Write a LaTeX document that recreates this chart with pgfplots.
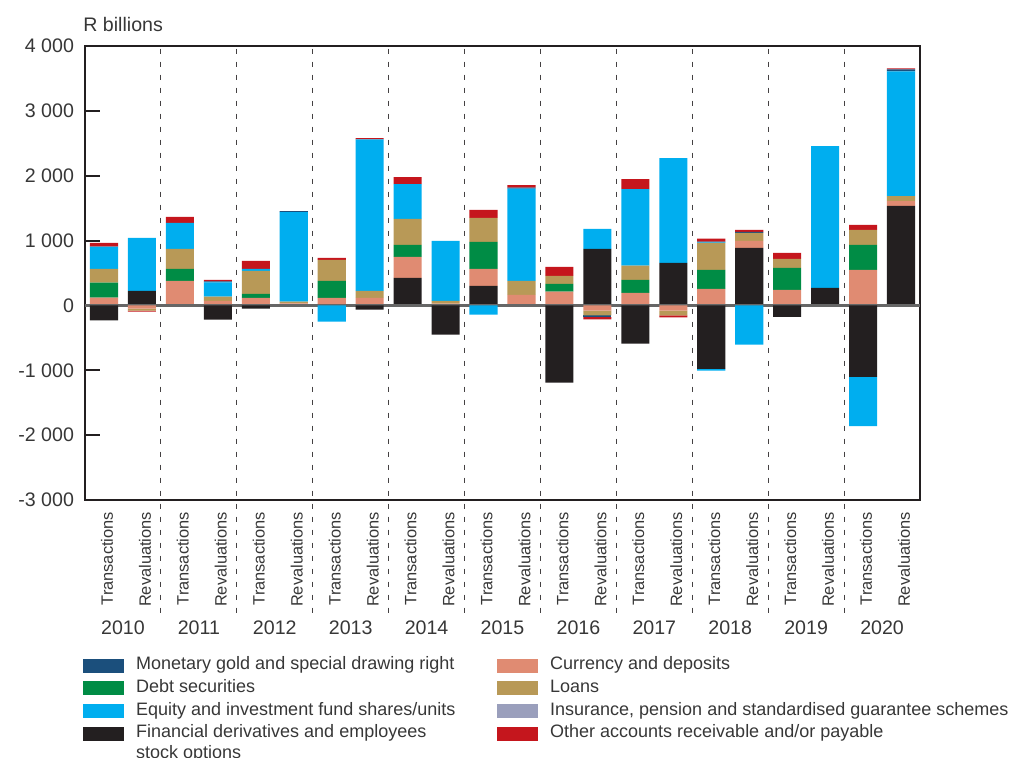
\documentclass[border=0pt]{standalone}
\usepackage{pgfplots}
\pgfplotsset{compat=1.18}
\usepackage{pgfplotstable}
\usepackage{fontspec}
\setmainfont{Liberation Sans}

\definecolor{cGold}{RGB}{27,79,124}
\definecolor{cDebt}{RGB}{0,140,69}
\definecolor{cEq}{RGB}{0,174,239}
\definecolor{cDer}{RGB}{35,31,32}
\definecolor{cCur}{RGB}{224,139,114}
\definecolor{cLoan}{RGB}{184,153,87}
\definecolor{cIns}{RGB}{154,159,188}
\definecolor{cOth}{RGB}{197,22,29}
\definecolor{axisdark}{RGB}{35,31,32}
\definecolor{txt}{RGB}{55,55,55}

% positive parts of each bar (R billions)
\pgfplotstableread{
x  der  cur  debt loans eq   gold ins oth
0  0    120  230  215   340  0    0   60
1  225  0    0    0     815  0    0   0
2  10   370  185  308   400  0    0   92
3  0    72   0    62    220  15   0   26
4  0    118  62   353   31   0    0   123
5  0    30   0    30    1380 15   0   0
6  0    118  261  324   0    0    0   30
7  0    118  0    108   2334 0    0   20
8  426  323  184  400   539  0    0   107
9  0    26   0    46    923  0    0   0
10 303  261  416  369   0    0    0   123
11 0    164  0    215   1421 15   0   40
12 0    211  123  123   0    0    0   138
13 872  0    0    0     308  0    0   0
14 0    195  200  220   1180 0    0   154
15 657  0    0    0     1615 0    0   0
16 0    257  292  415   10   10   0   45
17 887  108  0    123   0    15   0   30
18 0    241  339  138   0    0    0   92
19 272  0    0    0     2184 0    0   0
20 0    549  384  231   0    0    0   77
21 1533 77   0    77    1923 30   0   16
}\pos

% negative parts of each bar (R billions)
\pgfplotstableread{
x  der   cur  debt loans eq   gold ins oth
0  -230  0    0    0     0    0    0   0
1  0     -50  0    -30   0    0    0   -15
2  0     0    0    0     0    0    0   0
3  -220  0    0    0     0    0    0   0
4  -50   0    0    0     0    0    0   0
5  0     0    0    0     0    0    0   0
6  0     0    0    0     -250 0    0   0
7  -66   0    0    0     0    0    0   0
8  0     0    0    0     0    0    0   0
9  -450  0    0    0     0    0    0   0
10 0     0    0    0     -143 0    0   0
11 0     0    0    0     0    0    0   0
12 -1190 0    0    0     0    0    0   0
13 0     -80  0    -75   0    -25  0   -35
14 -590  0    0    0     0    0    0   0
15 0     -80  0    -75   0    0    0   -30
16 -980  0    0    0     -25  0    0   0
17 0     0    0    0     -605 0    0   0
18 -175  0    0    0     0    0    0   0
19 0     0    0    0     0    0    0   0
20 -1100 0    0    0     -760 0    0   0
21 0     0    0    0     0    0    0   0
}\neg

\pgfplotsset{
  common/.style={
    scale only axis, width=417.5pt, height=227pt,
    xmin=-0.5, xmax=21.5, ymin=-3000, ymax=4000,
    ybar stacked, bar width=0.74, clip=false,
  },
}

\begin{document}
\begin{tikzpicture}[text=txt, font=\fontsize{9.8}{11.5}\selectfont]
\begin{axis}[
  common,
  axis line style={draw=axisdark, line width=1pt},
  ytick={-3000,-2000,...,4000},
  yticklabels={-3 000,-2 000,-1 000,0,1 000,2 000,3 000,4 000},
  ytick pos=left, tick align=inside, major tick length=7.5pt,
  ytick style={draw=axisdark, line width=1pt},
  yticklabel style={xshift=-2pt},
  xtick={0,...,21},
  xticklabels={Transactions,Revaluations,Transactions,Revaluations,Transactions,Revaluations,Transactions,Revaluations,Transactions,Revaluations,Transactions,Revaluations,Transactions,Revaluations,Transactions,Revaluations,Transactions,Revaluations,Transactions,Revaluations,Transactions,Revaluations},
  xtick style={draw=none},
  xticklabel shift=2.5pt,
  xticklabel style={rotate=90, anchor=east, yshift=-1.5pt, font=\fontsize{8.2}{9}\selectfont},
]
\coordinate (ll) at (rel axis cs:0,0);
\coordinate (ur) at (rel axis cs:1,1);
\pgfplotsinvokeforeach{1.5,3.5,5.5,7.5,9.5,11.5,13.5,15.5,17.5,19.5}{
  \draw[axisdark!85, line width=0.5pt, dash pattern=on 2.5pt off 4pt] (axis cs:#1,3960) -- (axis cs:#1,-4800);
}
\addplot[fill=cDer,  draw=none] table[x=x, y=der]   {\pos};
\addplot[fill=cCur,  draw=none] table[x=x, y=cur]   {\pos};
\addplot[fill=cDebt, draw=none] table[x=x, y=debt]  {\pos};
\addplot[fill=cLoan, draw=none] table[x=x, y=loans] {\pos};
\addplot[fill=cEq,   draw=none] table[x=x, y=eq]    {\pos};
\addplot[fill=cGold, draw=none] table[x=x, y=gold]  {\pos};
\addplot[fill=cIns,  draw=none] table[x=x, y=ins]   {\pos};
\addplot[fill=cOth,  draw=none] table[x=x, y=oth]   {\pos};
\node[anchor=south west, inner sep=0pt] at ([xshift=-1pt, yshift=7pt]rel axis cs:0,1) {R billions};
\node[yshift=-64pt] at (axis cs:0.5,-3000) {2010};
\node[yshift=-64pt] at (axis cs:2.5,-3000) {2011};
\node[yshift=-64pt] at (axis cs:4.5,-3000) {2012};
\node[yshift=-64pt] at (axis cs:6.5,-3000) {2013};
\node[yshift=-64pt] at (axis cs:8.5,-3000) {2014};
\node[yshift=-64pt] at (axis cs:10.5,-3000) {2015};
\node[yshift=-64pt] at (axis cs:12.5,-3000) {2016};
\node[yshift=-64pt] at (axis cs:14.5,-3000) {2017};
\node[yshift=-64pt] at (axis cs:16.5,-3000) {2018};
\node[yshift=-64pt] at (axis cs:18.5,-3000) {2019};
\node[yshift=-64pt] at (axis cs:20.5,-3000) {2020};
\end{axis}

\begin{axis}[
  common,
  axis lines=none,
  legend columns=2,
  legend cell align=left,
  legend style={at={(0,0)}, anchor=north west, xshift=-1pt, yshift=-77pt,
    draw=none, fill=none, row sep=0pt, inner sep=0pt,
    font=\fontsize{9}{10.5}\selectfont,
    nodes={text height=6.3pt, text depth=2pt, inner sep=1.5pt, anchor=west},
    /tikz/every odd column/.append style={column sep=4.5pt},
    /tikz/every even column/.append style={column sep=19.5pt}},
]
\addlegendimage{legend image code/.code={\fill[cGold] (0pt,-3.25pt) rectangle (20pt,3.25pt);}}
\addlegendentry{Monetary gold and special drawing right}
\addlegendimage{legend image code/.code={\fill[cCur] (0pt,-3.25pt) rectangle (20pt,3.25pt);}}
\addlegendentry{Currency and deposits}
\addlegendimage{legend image code/.code={\fill[cDebt] (0pt,-3.25pt) rectangle (20pt,3.25pt);}}
\addlegendentry{Debt securities}
\addlegendimage{legend image code/.code={\fill[cLoan] (0pt,-3.25pt) rectangle (20pt,3.25pt);}}
\addlegendentry{Loans}
\addlegendimage{legend image code/.code={\fill[cEq] (0pt,-3.25pt) rectangle (20pt,3.25pt);}}
\addlegendentry{Equity and investment fund shares/units}
\addlegendimage{legend image code/.code={\fill[cIns] (0pt,-3.25pt) rectangle (20pt,3.25pt);}}
\addlegendentry{Insurance, pension and standardised guarantee schemes}
\addlegendimage{legend image code/.code={\fill[cDer] (0pt,-3.25pt) rectangle (20pt,3.25pt);}}
\addlegendentry{\begin{tabular}[t]{@{}l@{}}Financial derivatives and employees\\stock options\end{tabular}}
\addlegendimage{legend image code/.code={\fill[cOth] (0pt,-3.25pt) rectangle (20pt,3.25pt);}}
\addlegendentry{Other accounts receivable and/or payable}
\addplot[fill=cDer,  draw=none] table[x=x, y=der]   {\neg};
\addplot[fill=cCur,  draw=none] table[x=x, y=cur]   {\neg};
\addplot[fill=cDebt, draw=none] table[x=x, y=debt]  {\neg};
\addplot[fill=cLoan, draw=none] table[x=x, y=loans] {\neg};
\addplot[fill=cEq,   draw=none] table[x=x, y=eq]    {\neg};
\addplot[fill=cGold, draw=none] table[x=x, y=gold]  {\neg};
\addplot[fill=cIns,  draw=none] table[x=x, y=ins]   {\neg};
\addplot[fill=cOth,  draw=none] table[x=x, y=oth]   {\neg};
\draw[black!60, line width=1.2pt] (axis cs:-0.5,0) -- (axis cs:21.5,0);
\end{axis}
\pgfresetboundingbox
\path[use as bounding box] ([xshift=-42.5pt, yshift=-129pt]ll) rectangle ([xshift=45.5pt, yshift=23pt]ur);
\end{tikzpicture}
\end{document}
